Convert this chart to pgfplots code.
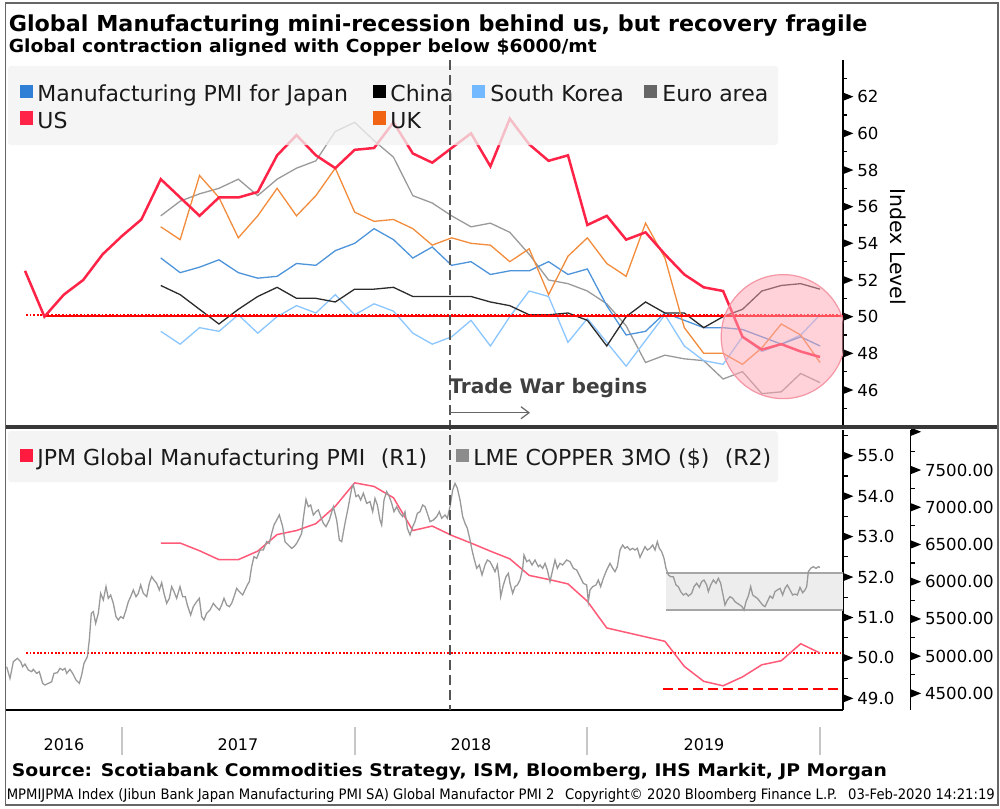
\documentclass[border=0pt]{standalone}
\usepackage{fontspec}
\setmainfont{DejaVu Sans}
\usepackage{graphicx}
\usepackage{pgfplots}
\pgfplotsset{compat=1.18}
\usepackage{pgfplotstable}
\usetikzlibrary{arrows.meta}

\definecolor{cjpn}{HTML}{4D94DB}
\definecolor{cjpnL}{HTML}{2F7FD6}
\definecolor{cchn}{HTML}{2B2B2B}
\definecolor{ckor}{HTML}{8CC6FF}
\definecolor{ckorL}{HTML}{73B9FF}
\definecolor{ceur}{HTML}{9A9A9A}
\definecolor{ceurL}{HTML}{666666}
\definecolor{cus}{HTML}{FF2447}
\definecolor{cuk}{HTML}{F28C3C}
\definecolor{cukL}{HTML}{F06414}
\definecolor{cpmi}{HTML}{FF5A78}
\definecolor{cpmiL}{HTML}{FF1A40}
\definecolor{ccu}{HTML}{999999}
\definecolor{ccuL}{HTML}{8C8C8C}
\definecolor{legbg}{HTML}{F2F2F2}
\definecolor{txt}{HTML}{1A1A1A}
\definecolor{twc}{HTML}{555555}

\newcommand{\tri}{\tikz[baseline={(0pt,-3pt)}]\fill (0pt,-2pt)--(5pt,0pt)--(0pt,2pt)--cycle;}

% month index m: 0 = Dec 2016
\pgfplotstableread{
m jpn chn kor eur us uk
-5 nan nan nan nan 52.5 nan
-4 nan nan nan nan 50.0 nan
-3 nan nan nan nan 51.2 nan
-2 nan nan nan nan 52.0 nan
-1 nan nan nan nan 53.4 nan
0 nan nan nan nan 54.4 nan
1 nan nan nan nan 55.3 nan
2 53.2 51.7 49.2 55.5 57.5 54.9
3 52.4 51.2 48.5 56.3 56.5 54.2
4 52.7 50.4 49.4 56.7 55.5 57.7
5 53.1 49.6 49.2 57.0 56.5 56.5
6 52.4 50.4 50.1 57.5 56.5 54.3
7 52.1 51.1 49.1 56.6 56.8 55.5
8 52.2 51.6 50.0 57.5 58.8 57.0
9 52.9 51.0 50.6 58.1 59.9 55.5
10 52.8 51.0 50.2 58.5 58.8 56.6
11 53.6 50.8 51.2 60.1 58.1 58.1
12 54.0 51.5 50.1 60.6 59.1 55.7
13 54.8 51.5 50.7 59.6 59.2 55.2
14 54.2 51.6 50.3 58.7 60.6 55.3
15 53.2 51.1 49.1 56.6 58.9 54.8
16 53.8 51.1 48.5 56.2 58.4 53.9
17 52.8 51.1 48.9 55.5 59.2 54.3
18 53.0 51.1 49.8 54.9 60.0 54.0
19 52.3 50.8 48.4 55.1 58.2 53.9
20 52.5 50.6 50.0 54.6 60.8 53.0
21 52.5 50.1 51.4 53.4 59.4 53.7
22 53.0 50.1 51.1 52.0 58.5 51.2
23 52.3 50.2 48.6 51.8 58.8 53.3
24 52.6 49.8 49.9 51.4 55.0 54.3
25 50.6 48.4 48.6 50.7 55.5 52.9
26 49.0 50.0 47.3 49.5 54.2 52.2
27 49.2 50.8 48.7 47.5 54.6 55.1
28 50.2 50.2 50.1 47.9 53.4 53.2
29 49.8 50.2 48.4 47.7 52.3 49.4
30 49.4 49.4 47.6 47.6 51.6 48.0
31 49.4 50.0 47.4 46.6 51.4 48.0
32 49.3 50.4 48.9 47.0 48.9 47.4
33 48.9 51.4 48.1 45.8 48.2 48.3
34 48.5 51.7 48.5 45.9 48.5 49.6
35 48.9 51.8 49.0 46.9 48.1 49.0
36 48.4 51.5 50.1 46.4 47.8 47.5
}\topdata

\pgfplotstableread{
m pmi
2 52.84
3 52.84
4 52.65
5 52.43
6 52.43
7 52.64
8 53.05
9 53.15
10 53.32
11 53.75
12 54.33
13 54.24
14 53.96
15 53.15
16 53.26
17 53.03
18 52.84
19 52.64
20 52.45
21 52.04
22 51.94
23 51.83
24 51.40
25 50.74
26 50.63
27 50.52
28 50.41
29 49.79
30 49.42
31 49.31
32 49.53
33 49.83
34 49.93
35 50.35
36 50.12
}\pmidata

\pgfplotstableread{
m cu
-5.948 4858
-5.776 4701
-5.604 4925
-5.398 4970
-5.226 4925
-5.123 4858
-5.003 4894
-4.831 4813
-4.659 4791
-4.573 4822
-4.401 4768
-4.264 4791
-4.092 4634
-3.971 4612
-3.799 4634
-3.627 4656
-3.507 4768
-3.335 4777
-3.198 4836
-3.060 4813
-2.940 4836
-2.854 4768
-2.682 4822
-2.544 4768
-2.372 4679
-2.200 4634
-2.080 4746
-1.960 4903
-1.788 4992
-1.685 5216
-1.582 5575
-1.479 5597
-1.358 5440
-1.221 5575
-1.100 5843
-0.963 5754
-0.825 5933
-0.705 5776
-0.585 5821
-0.447 5709
-0.310 5530
-0.189 5485
-0.069 5530
0.069 5507
0.206 5619
0.327 5731
0.447 5798
0.584 5888
0.722 5798
0.842 5843
0.963 5955
1.100 5843
1.272 5798
1.409 5977
1.530 6067
1.650 6022
1.788 5977
1.925 5888
2.046 5986
2.166 5843
2.304 5709
2.441 5776
2.561 5933
2.682 5866
2.819 5776
2.991 5933
3.129 5798
3.266 5798
3.370 5686
3.541 5552
3.679 5664
3.851 5731
3.988 5776
4.109 5530
4.229 5485
4.367 5575
4.538 5619
4.710 5709
4.848 5664
5.020 5619
5.140 5686
5.260 5776
5.398 5686
5.535 5664
5.656 5709
5.776 5798
5.914 5910
6.051 5866
6.223 5821
6.343 5888
6.464 5955
6.567 6000
6.687 6202
6.807 6336
6.945 6313
7.117 6425
7.289 6425
7.461 6537
7.598 6515
7.719 6649
7.839 6761
7.977 6828
8.114 6896
8.286 6739
8.407 6537
8.578 6492
8.750 6448
8.871 6470
9.008 6515
9.146 6582
9.266 6649
9.352 6851
9.490 7106
9.610 7007
9.730 7030
9.868 6895
10.005 6940
10.126 6963
10.246 6873
10.384 6784
10.521 6739
10.693 6828
10.899 7007
11.071 6828
11.209 6560
11.329 6537
11.501 6784
11.673 7007
11.845 7254
11.931 7298
12.068 7142
12.189 7164
12.309 7097
12.446 7187
12.619 7052
12.790 7075
12.928 6940
13.048 7119
13.169 7030
13.306 6828
13.392 6761
13.512 7097
13.650 7209
13.787 7142
13.908 7052
14.028 6940
14.166 7007
14.337 6918
14.475 6873
14.595 6940
14.716 6716
14.853 6627
14.991 6739
15.111 6806
15.231 6918
15.369 6940
15.506 7030
15.627 7007
15.747 6918
15.885 6806
16.057 6828
16.229 6873
16.366 6940
16.486 6851
16.658 6896
16.779 6851
16.916 7007
17.054 7231
17.174 7321
17.295 7254
17.432 7097
17.570 6873
17.690 6784
17.810 6716
17.948 6560
18.051 6425
18.154 6313
18.292 6179
18.429 6224
18.567 6090
18.721 6224
18.842 6291
18.979 6269
19.117 6201
19.237 6134
19.357 6224
19.460 6022
19.529 5798
19.667 5955
19.804 6067
19.925 6112
20.011 5978
20.148 5843
20.268 5933
20.389 5955
20.526 6022
20.664 6179
20.733 6358
20.870 6269
21.008 6291
21.145 6224
21.300 6291
21.472 6201
21.557 6224
21.695 6179
21.815 6246
21.935 6157
22.073 6000
22.210 6157
22.331 6291
22.451 6179
22.588 6246
22.726 6224
22.932 6291
23.104 6269
23.276 6179
23.448 6157
23.620 6067
23.792 5978
23.964 5955
24.050 5731
24.136 5888
24.273 5933
24.445 5955
24.565 6022
24.686 5933
24.823 6045
24.995 6157
25.167 6246
25.305 6179
25.425 6134
25.545 6201
25.683 6425
25.820 6492
25.941 6448
26.061 6470
26.199 6425
26.336 6448
26.456 6425
26.577 6448
26.714 6327
26.852 6403
26.972 6470
27.093 6425
27.230 6448
27.368 6492
27.488 6425
27.608 6537
27.711 6448
27.832 6403
27.952 6313
28.055 6179
28.176 6090
28.296 6067
28.433 6067
28.571 5955
28.691 5933
28.811 5866
28.949 5821
29.087 5843
29.207 5807
29.379 5843
29.499 5933
29.637 5978
29.774 5924
29.895 6000
30.015 6022
30.153 5955
30.238 5866
30.359 5955
30.496 6022
30.634 5978
30.754 6045
30.875 5978
30.978 5843
31.098 5686
31.218 5754
31.356 5798
31.494 5776
31.614 5731
31.734 5709
31.872 5686
31.975 5664
32.078 5619
32.181 5731
32.301 5807
32.422 5933
32.525 5821
32.645 5798
32.766 5776
32.903 5731
33.041 5686
33.161 5664
33.281 5731
33.419 5807
33.556 5776
33.677 5866
33.797 5888
33.935 5910
34.072 5821
34.192 5910
34.313 5955
34.450 5888
34.588 5821
34.708 5834
34.828 5821
34.966 5924
35.103 5852
35.224 5888
35.310 5933
35.396 6134
35.516 6179
35.654 6201
35.791 6179
35.912 6201
35.998 6192
}\cudata

\begin{document}
\begin{tikzpicture}
\path[use as bounding box] (0,0) rectangle (500pt,-404pt);
\fill[white] (0,0) rectangle (500pt,-404pt);

% ================= TOP PANEL =================
\begin{axis}[
  at={(3pt,-212.5pt)}, anchor=south west, scale only axis,
  width=418.5pt, height=182.5pt,
  xmin=-5.982, xmax=37.184, ymin=44.09, ymax=64.0,
  axis x line=none, axis y line*=right,
  axis line style={black, line width=0.6pt},
  ytick={46,48,...,62}, minor ytick={45,47,...,63},
  tick align=outside, major tick length=0pt, minor tick length=2pt,
  every tick/.style={black, line width=0.6pt},
  /pgf/number format/assume math mode=true,
  yticklabel={\tri\hspace{2pt}\pgfmathprintnumber{\tick}},
  yticklabel style={inner xsep=0pt, font=\fontsize{8.3}{10}\selectfont, text=black},
  clip=true,
]
\addplot[ceur, line width=0.65pt] table[x=m, y=eur] {\topdata};
\addplot[ckor, line width=0.65pt] table[x=m, y=kor] {\topdata};
\addplot[cjpn, line width=0.65pt] table[x=m, y=jpn] {\topdata};
\addplot[cchn, line width=0.65pt] table[x=m, y=chn] {\topdata};
\addplot[cuk, line width=0.65pt] table[x=m, y=uk] {\topdata};
\addplot[red, line width=1pt, forget plot] coordinates {(-4.02,50.02) (37.184,50.02)};
\addplot[red, line width=0.9pt, dash pattern=on 0.9pt off 0.9pt, forget plot] coordinates {(-4.95,50.09) (37.184,50.09)};
\addplot[cus, line width=1.25pt] table[x=m, y=us] {\topdata};
\fill[fill={rgb,255:red,255;green,165;blue,180}, fill opacity=0.5]
   (axis cs:34.1,48.91) circle[radius=31pt];
\draw[draw={rgb,255:red,245;green,150;blue,165}, line width=0.6pt]
   (axis cs:34.1,48.91) circle[radius=31pt];
\coordinate (twA) at (axis cs:16.92,64.0);
\end{axis}

% top legend
\fill[legbg, fill opacity=0.75, rounded corners=1.5pt] (4pt,-33pt) rectangle (389pt,-72.5pt);
\begin{scope}[every node/.style={anchor=base west, inner sep=0pt, text=txt, font=\fontsize{11}{13}\selectfont}]
\fill[cjpnL] (10pt,-42.6pt) rectangle (16.5pt,-49.1pt);
\node at (18.5pt,-50.85pt) {Manufacturing PMI for Japan};
\fill[black] (186.35pt,-42.6pt) rectangle (192.85pt,-49.1pt);
\node at (195pt,-50.85pt) {China};
\fill[ckorL] (236.2pt,-42.6pt) rectangle (242.7pt,-49.1pt);
\node at (245pt,-50.85pt) {South Korea};
\fill[ceurL] (322pt,-42.6pt) rectangle (328.5pt,-49.1pt);
\node at (331pt,-50.85pt) {Euro area};
\fill[cus] (10pt,-55.75pt) rectangle (16.5pt,-62.25pt);
\node at (18.5pt,-64.15pt) {US};
\fill[cukL] (186.35pt,-55.75pt) rectangle (192.85pt,-62.25pt);
\node at (195pt,-64.15pt) {UK};
\end{scope}

% ================= BOTTOM PANEL =================
\begin{axis}[
  at={(3pt,-355pt)}, anchor=south west, scale only axis,
  width=418.5pt, height=140pt,
  xmin=-5.982, xmax=37.184, ymin=48.711, ymax=55.636,
  axis x line*=bottom, axis y line*=right,
  axis line style={black, line width=0.6pt},
  xtick=\empty, minor xtick={-6,-5,...,37},
  ytick={49,50,...,55}, minor ytick={48.5,49.5,...,55.5},
  tick align=outside, major tick length=0pt, minor tick length=2.3pt,
  every tick/.style={black, line width=0.6pt},
  /pgf/number format/assume math mode=true,
  yticklabel={\tri\hspace{2pt}\pgfmathprintnumber[fixed,fixed zerofill,precision=1]{\tick}},
  yticklabel style={inner xsep=0pt, font=\fontsize{8.3}{10}\selectfont, text=black},
  clip=true,
]
\addplot[red, line width=1pt, dash pattern=on 0.9pt off 0.9pt, forget plot] coordinates {(-4.95,50.11) (37.184,50.11)};
\addplot[red, line width=1.3pt, dash pattern=on 5pt off 2.5pt, forget plot] coordinates {(27.92,49.23) (37.184,49.23)};
\addplot[cpmi, line width=0.75pt] table[x=m, y=pmi] {\pmidata};
\coordinate (twB) at (axis cs:16.92,48.711);
\end{axis}

\begin{axis}[
  at={(3pt,-355pt)}, anchor=south west, scale only axis,
  width=452.35pt, height=140pt,
  xmin=-5.982, xmax=40.675, ymin=4276, ymax=8037,
  axis x line=none, axis y line*=right,
  axis line style={black, line width=0.6pt},
  ytick={4500,5000,...,7500}, minor ytick={4750,5250,...,7750},
  extra y ticks={8000}, extra y tick style={yticklabel={\tri}},
  tick align=outside, major tick length=0pt, minor tick length=2pt,
  every tick/.style={black, line width=0.6pt},
  /pgf/number format/assume math mode=true,
  yticklabel={\tri\hspace{2pt}\pgfmathprintnumber[fixed,fixed zerofill,precision=2,1000 sep={}]{\tick}},
  yticklabel style={inner xsep=0pt, font=\fontsize{8.3}{10}\selectfont, text=black},
  clip=true,
]
\fill[black!7] (axis cs:28.06,5620) rectangle (axis cs:37.184,6113);
\draw[black!35, line width=0.75pt] (axis cs:28.06,6113) -- (axis cs:37.184,6113);
\draw[black!35, line width=0.75pt] (axis cs:28.06,5620) -- (axis cs:37.184,5620);
\addplot[ccu, line width=0.65pt] table[x=m, y=cu] {\cudata};
\end{axis}

% bottom legend
\fill[legbg, fill opacity=0.8, rounded corners=1.5pt] (4pt,-215.5pt) rectangle (389pt,-241pt);
\begin{scope}[every node/.style={anchor=base west, inner sep=0pt, text=txt, font=\fontsize{11}{13}\selectfont}]
\fill[cpmiL] (10pt,-224.65pt) rectangle (16.5pt,-231.15pt);
\node at (18.5pt,-232.5pt) {JPM Global Manufacturing PMI\hspace{0.7em}(R1)};
\fill[ccuL] (228pt,-224.65pt) rectangle (234.5pt,-231.15pt);
\node at (236.5pt,-232.5pt) {LME COPPER 3MO (\$)\hspace{0.7em}(R2)};
\end{scope}

% trade war line
\draw[twc, line width=1pt, dash pattern=on 5pt off 2.5pt] (twA) -- (twB);
\node[anchor=base west, inner sep=0pt, text={rgb,255:red,64;green,64;blue,64}] at (224.5pt,-196.7pt)
  {\resizebox{99pt}{\height}{\fontsize{10}{12}\selectfont\bfseries Trade War begins}};
\draw[black!60, line width=0.6pt, -{Straight Barb[length=4pt,width=6pt]}] (225pt,-206.35pt) -- (265pt,-206.35pt);

% separator and frame
\draw[black!78, line width=2pt] (2.75pt,-213.4pt) -- (499pt,-213.4pt);
\draw[black!60, line width=0.9pt] (2.75pt,-1.4pt) rectangle (499pt,-402.6pt);

% index level
\node[rotate=-90, inner sep=0pt, font=\fontsize{10.2}{12}\selectfont] at (449pt,-123.3pt) {Index Level};

% titles
\node[anchor=base west, inner sep=0pt] at (4.2pt,-15.85pt)
  {\resizebox{429.3pt}{\height}{\fontsize{11}{13}\selectfont\bfseries Global Manufacturing mini-recession behind us, but recovery fragile}};
\node[anchor=base west, inner sep=0pt] at (4.2pt,-26.5pt)
  {\resizebox{293.9pt}{\height}{\fontsize{9}{11}\selectfont\bfseries Global contraction aligned with Copper below \$6000/mt}};

% years
\foreach \xx in {61,177.5,293.5,410} {\draw[black!22, line width=0.8pt] (\xx pt,-363.5pt) -- (\xx pt,-377.5pt);}
\begin{scope}[every node/.style={anchor=base, inner sep=0pt, font=\fontsize{8}{10}\selectfont}]
\node at (32pt,-375pt) {2016};
\node at (119pt,-375pt) {2017};
\node at (235.5pt,-375pt) {2018};
\node at (352pt,-375pt) {2019};
\end{scope}

% source and footer
\node[anchor=base west, inner sep=0pt] at (5.75pt,-388pt)
  {\resizebox{437.5pt}{\height}{\fontsize{8.7}{10}\selectfont\bfseries Source: Scotiabank Commodities Strategy, ISM, Bloomberg, IHS Markit, JP Morgan}};
\node[anchor=base west, inner sep=0pt] at (3.2pt,-399.6pt)
  {\resizebox{494pt}{\height}{\fontsize{7.2}{8}\selectfont MPMIJPMA Index (Jibun Bank Japan Manufacturing PMI SA) Global Manufactor PMI 2\hspace{0.5em} Copyright© 2020 Bloomberg Finance L.P.\hspace{0.5em} 03-Feb-2020 14:21:19}};
\end{tikzpicture}
\end{document}
